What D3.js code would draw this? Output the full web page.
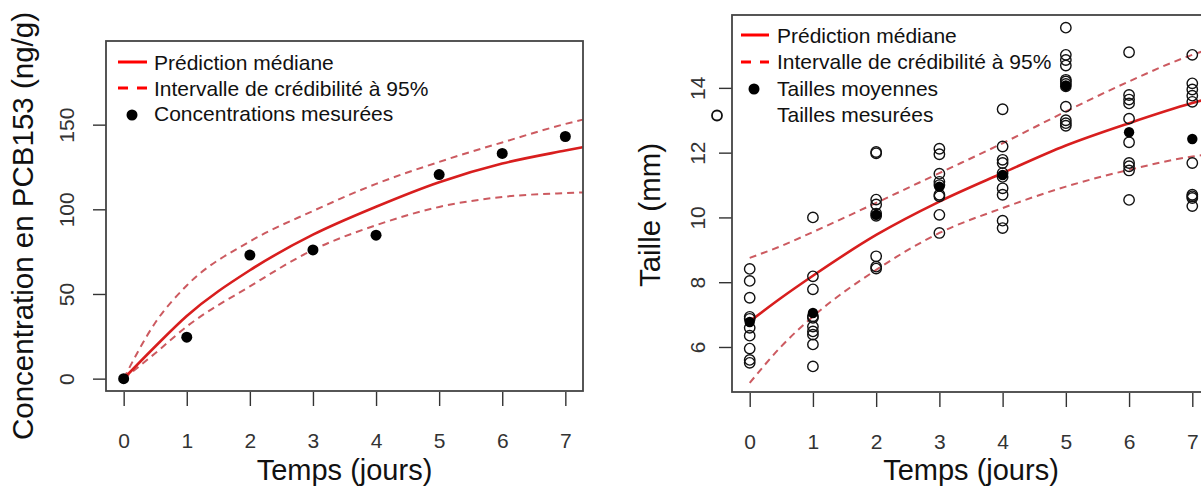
<!DOCTYPE html>
<html>
<head>
<meta charset="utf-8">
<script src="https://cdn.jsdelivr.net/npm/d3@7"></script>
<style>
  html, body { margin: 0; padding: 0; background: #fff; }
  svg { display: block; }
</style>
</head>
<body>
<svg id="chart" width="1201" height="489"></svg>
<script>
// ---------------- DATA ----------------
// Left panel: PCB153 concentration
const days = [0, 1, 2, 3, 4, 5, 6, 7];
const concMeasured = [0, 24.5, 73, 76, 84.7, 120.5, 133, 143];
const curveT = [0, 0.5, 1, 2, 3, 4, 5, 6, 7, 7.28];
const concMedian = [0, 19, 37, 64, 85, 101.5, 116, 127, 134.7, 136.7];
const concUpper = [0, 33, 55, 81, 99, 115, 128, 139.5, 150.4, 153];
const concLower = [0, 15, 30.8, 54.5, 76, 90.6, 101.4, 107.3, 109.6, 110];
const concTicks = [0, 50, 100, 150];

// Right panel: size (mm)
const sizeDay0 = [8.41, 8.04, 7.52, 6.93, 6.87, 6.59, 6.35, 5.95, 5.60, 5.51];
const sizeDay1 = [10.0, 8.18, 7.78, 6.95, 6.90, 6.63, 6.48, 6.38, 6.08, 5.40];
const sizeDay2 = [12.02, 11.98, 10.55, 10.40, 10.12, 10.05, 8.80, 8.48, 8.42];
const sizeDay3 = [12.12, 11.95, 11.35, 11.10, 11.00, 10.70, 10.65, 10.08, 9.52];
const sizeDay4 = [13.34, 12.19, 11.78, 11.68, 11.37, 11.25, 10.90, 10.70, 9.90, 9.67];
const sizeDay5 = [15.86, 15.02, 14.86, 14.69, 14.25, 14.20, 14.12, 14.05, 13.42, 13.00, 12.91, 12.83];
const sizeDay6 = [15.10, 13.78, 13.64, 13.52, 13.05, 12.32, 11.68, 11.58, 11.45, 10.54];
const sizeDay7 = [15.02, 14.14, 13.95, 13.76, 13.57, 11.68, 10.70, 10.65, 10.60, 10.35];
const sizeMean = [6.77, 7.05, 10.08, 10.95, 11.31, 14.06, 12.63, 12.42];
const sizeMedian = [6.79, 7.52, 8.2, 9.46, 10.49, 11.37, 12.22, 12.91, 13.53, 13.68];
const sizeUpper = [8.75, 9.12, 9.55, 10.45, 11.37, 12.29, 13.27, 14.2, 15.02, 15.2];
const sizeLower = [4.89, 6.02, 6.94, 8.38, 9.52, 10.29, 10.95, 11.47, 11.88, 11.95];
const sizeTicks = [6, 8, 10, 12, 14];

const legendLeft = ["Prédiction médiane", "Intervalle de crédibilité à 95%", "Concentrations mesurées"];
const legendRight = ["Prédiction médiane", "Intervalle de crédibilité à 95%", "Tailles moyennes", "Tailles mesurées"];
const xTitle = "Temps (jours)";
const yTitleLeft = "Concentration en PCB153 (ng/g)";
const yTitleRight = "Taille (mm)";

// ---------------- STYLE ----------------
const FONT = "'Liberation Sans', Arial, Helvetica, sans-serif";
const TICKFONT = "'Liberation Sans Narrow', 'Arial Narrow', 'Liberation Sans', Arial, sans-serif";
const MED_COL = "#d81e1e";
const CI_COL = "#cc5a60";
const LEG_RED = "#ff0000";

const svg = d3.select("#chart");

function panel(cfg) {
  const g = svg.append("g");
  const x = d3.scaleLinear().domain([-0.28, 7.28]).range([cfg.left, cfg.right]);
  const y = d3.scaleLinear().domain(cfg.ydom).range([cfg.bottom, cfg.top]);

  const clipId = "clip" + cfg.id;
  svg.append("clipPath").attr("id", clipId)
    .append("rect").attr("x", cfg.left).attr("y", cfg.top)
    .attr("width", cfg.right - cfg.left).attr("height", cfg.bottom - cfg.top);

  // x axis ticks + labels
  const xAxis = d3.axisBottom(x).tickValues(days).tickSize(14).tickFormat(d3.format("d"));
  const gx = g.append("g").attr("transform", `translate(0,${cfg.bottom + 1})`).call(xAxis);
  gx.select(".domain").remove();
  gx.selectAll(".tick line").attr("stroke", "#333").attr("stroke-width", 1.4);
  gx.selectAll(".tick text").attr("font-family", TICKFONT).attr("font-size", 21)
    .attr("fill", "#333").attr("dy", null).attr("y", 56);

  // y axis ticks + labels
  const yAxis = d3.axisLeft(y).tickValues(cfg.yticks).tickSize(13).tickFormat(d3.format("d"));
  const gy = g.append("g").attr("transform", `translate(${cfg.left},0)`).call(yAxis);
  gy.select(".domain").remove();
  gy.selectAll(".tick line").attr("stroke", "#333").attr("stroke-width", 1.4);
  gy.selectAll(".tick text").attr("font-family", TICKFONT).attr("font-size", 21)
    .attr("fill", "#333").attr("x", null).attr("dy", null)
    .attr("text-anchor", "middle")
    .attr("transform", `translate(${-cfg.ylabOff},0) rotate(-90)`);

  // curves
  const line = d3.line().x((d, i) => x(curveT[i])).y(d => y(d)).curve(d3.curveMonotoneX);
  const cg = g.append("g").attr("clip-path", `url(#${clipId})`);
  [cfg.upper, cfg.lower].forEach(arr => {
    cg.append("path").datum(arr).attr("d", line).attr("fill", "none")
      .attr("stroke", CI_COL).attr("stroke-width", 2).attr("stroke-dasharray", "7,5");
  });
  cg.append("path").datum(cfg.median).attr("d", line).attr("fill", "none")
    .attr("stroke", MED_COL).attr("stroke-width", 2.6);

  // box
  g.append("rect").attr("x", cfg.left).attr("y", cfg.top)
    .attr("width", cfg.right - cfg.left).attr("height", cfg.bottom - cfg.top)
    .attr("fill", "none").attr("stroke", "#444").attr("stroke-width", 1.8);

  // titles
  g.append("text").attr("x", (cfg.left + cfg.right) / 2).attr("y", 480)
    .attr("text-anchor", "middle").attr("font-family", FONT).attr("font-size", 29)
    .attr("fill", "#111").text(xTitle);
  g.append("text").attr("transform", `translate(${cfg.ytitleX},${cfg.ytitleY}) rotate(-90)`)
    .attr("text-anchor", "middle").attr("font-family", FONT).attr("font-size", 29.5)
    .attr("fill", "#111").text(cfg.ytitle);

  return { g, x, y, clipId };
}

// ---------- Left panel ----------
const L = panel({
  id: "L", left: 106, right: 583, top: 41, bottom: 391,
  ydom: [-7.3, 199.4], yticks: concTicks, ylabOff: 32,
  median: concMedian, upper: concUpper, lower: concLower,
  ytitle: yTitleLeft, ytitleX: 33, ytitleY: 226
});
L.g.append("g").selectAll("circle").data(concMeasured).join("circle")
  .attr("cx", (d, i) => L.x(days[i])).attr("cy", d => L.y(d)).attr("r", 5.5).attr("fill", "#000");

// Left legend
const lg = L.g.append("g").attr("font-family", FONT).attr("font-size", 21).attr("fill", "#111");
lg.append("line").attr("x1", 118).attr("x2", 147).attr("y1", 62).attr("y2", 62)
  .attr("stroke", LEG_RED).attr("stroke-width", 3);
lg.append("line").attr("x1", 118).attr("x2", 147).attr("y1", 88).attr("y2", 88)
  .attr("stroke", LEG_RED).attr("stroke-width", 3).attr("stroke-dasharray", "10,9");
lg.append("circle").attr("cx", 132).attr("cy", 115).attr("r", 5.5).attr("fill", "#000");
legendLeft.forEach((t, i) => {
  lg.append("text").attr("x", 154).attr("y", 70 + i * 25.5).text(t);
});

// ---------- Right panel ----------
const R = panel({
  id: "R", left: 732, right: 1210, top: 15, bottom: 392,
  ydom: [4.61, 16.25], yticks: sizeTicks, ylabOff: 27,
  median: sizeMedian, upper: sizeUpper, lower: sizeLower,
  ytitle: yTitleRight, ytitleX: 660, ytitleY: 215
});
const sizeByDay = [sizeDay0, sizeDay1, sizeDay2, sizeDay3, sizeDay4, sizeDay5, sizeDay6, sizeDay7];
const pts = [];
sizeByDay.forEach((arr, i) => arr.forEach(v => pts.push({ day: days[i], v })));
R.g.append("g").selectAll("circle").data(pts).join("circle")
  .attr("cx", d => R.x(d.day)).attr("cy", d => R.y(d.v)).attr("r", 5.2)
  .attr("fill", "none").attr("stroke", "#111").attr("stroke-width", 1.4);
R.g.append("g").selectAll("circle").data(sizeMean).join("circle")
  .attr("cx", (d, i) => R.x(days[i])).attr("cy", d => R.y(d)).attr("r", 5.2).attr("fill", "#000");

// Right legend
const rg = R.g.append("g").attr("font-family", FONT).attr("font-size", 21).attr("fill", "#111");
rg.append("line").attr("x1", 741).attr("x2", 769).attr("y1", 35).attr("y2", 35)
  .attr("stroke", LEG_RED).attr("stroke-width", 3);
rg.append("line").attr("x1", 741).attr("x2", 769).attr("y1", 62).attr("y2", 62)
  .attr("stroke", LEG_RED).attr("stroke-width", 3).attr("stroke-dasharray", "10,9");
rg.append("circle").attr("cx", 754).attr("cy", 89).attr("r", 5.5).attr("fill", "#000");
rg.append("circle").attr("cx", 717).attr("cy", 115.5).attr("r", 5).attr("fill", "none")
  .attr("stroke", "#111").attr("stroke-width", 1.8);
legendRight.forEach((t, i) => {
  rg.append("text").attr("x", 777).attr("y", 43 + i * 26.3).text(t);
});
</script>
</body>
</html>
